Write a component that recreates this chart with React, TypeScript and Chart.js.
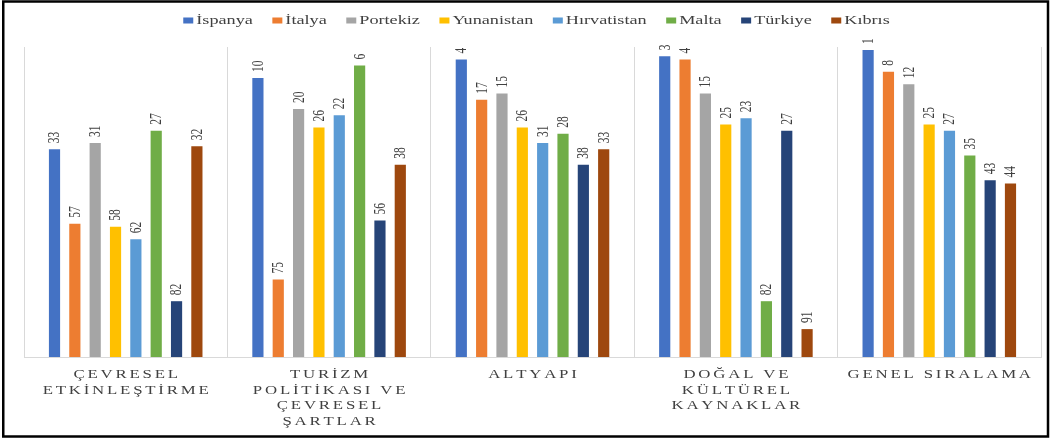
import React, { useEffect, useRef } from "react";
import { Chart, registerables } from "chart.js";

Chart.register(...registerables);

// ---- data ----
const categories: string[][] = [
  ["ÇEVRESEL", "ETKİNLEŞTİRME"],
  ["TURİZM", "POLİTİKASI VE", "ÇEVRESEL", "ŞARTLAR"],
  ["ALTYAPI"],
  ["DOĞAL VE", "KÜLTÜREL", "KAYNAKLAR"],
  ["GENEL SIRALAMA"],
];
const seriesNames = ["İspanya", "İtalya", "Portekiz", "Yunanistan", "Hırvatistan", "Malta", "Türkiye", "Kıbrıs"];
const seriesColors = ["#4472C4", "#ED7D31", "#A5A5A5", "#FFC000", "#5B9BD5", "#70AD47", "#264478", "#9E480E"];

const ispanya = [33, 10, 4, 3, 1];
const italya = [57, 75, 17, 4, 8];
const portekiz = [31, 20, 15, 15, 12];
const yunanistan = [58, 26, 26, 25, 25];
const hirvatistan = [62, 22, 31, 23, 27];
const malta = [27, 6, 28, 82, 35];
const turkiye = [82, 56, 38, 27, 43];
const kibris = [32, 38, 33, 91, 44];

const seriesRanks = [ispanya, italya, portekiz, yunanistan, hirvatistan, malta, turkiye, kibris];
const rankFloor = 100; // bars are drawn from the worst rank (100) up to each country's rank

const STRETCH = 1.4;
const TEXT = "#404040";
const SERIF = '"Liberation Serif", "Times New Roman", serif';

// draws text with manual letter spacing, centred on (cx, y), stretched horizontally
function drawSpaced(ctx: CanvasRenderingContext2D, text: string, cx: number, y: number, spacing: number) {
  const chars = Array.from(text);
  const widths = chars.map((c) => ctx.measureText(c).width);
  const total = widths.reduce((a, w) => a + w, 0) + spacing * (chars.length - 1);
  ctx.save();
  ctx.translate(cx, y);
  ctx.scale(STRETCH, 1);
  ctx.textAlign = "left";
  ctx.textBaseline = "alphabetic";
  let x = -total / 2;
  chars.forEach((c, i) => {
    ctx.fillText(c, x, 0);
    x += widths[i] + spacing;
  });
  ctx.restore();
}

const decorPlugin = {
  id: "decor",
  afterDatasetsDraw(chart: any) {
    const ctx = chart.ctx as CanvasRenderingContext2D;
    const yScale = chart.scales.y;
    chart.data.datasets.forEach((_ds: any, di: number) => {
      const meta = chart.getDatasetMeta(di);
      meta.data.forEach((bar: any, i: number) => {
        const rank = seriesRanks[di][i];
        const top = yScale.getPixelForValue(rank);
        ctx.save();
        ctx.translate(bar.x, top - 6);
        ctx.rotate(-Math.PI / 2);
        ctx.scale(1, STRETCH);
        ctx.font = `11.5px ${SERIF}`;
        ctx.fillStyle = TEXT;
        ctx.textAlign = "left";
        ctx.textBaseline = "middle";
        ctx.fillText(String(rank), 0, 0.5);
        ctx.restore();
      });
    });
  },
  afterDraw(chart: any) {
    const ctx = chart.ctx as CanvasRenderingContext2D;
    const xScale = chart.scales.x;

    // category labels
    ctx.save();
    ctx.font = `12px ${SERIF}`;
    ctx.fillStyle = TEXT;
    categories.forEach((lines, i) => {
      const cx = xScale.getPixelForValue(i);
      lines.forEach((line, li) => {
        drawSpaced(ctx, line, cx, 378 + li * 15.5, 2);
      });
    });
    ctx.restore();

    // legend
    ctx.save();
    ctx.font = `13px ${SERIF}`;
    const widths = seriesNames.map((n) => ctx.measureText(n).width * STRETCH);
    const markerW = 10;
    const markerGap = 3;
    const itemGap = 19.5;
    const total = widths.reduce((a, w) => a + markerW + markerGap + w, 0) + itemGap * (seriesNames.length - 1);
    let x = (chart.chartArea.left + chart.chartArea.right) / 2 + 4 - total / 2;
    seriesNames.forEach((name, i) => {
      ctx.fillStyle = seriesColors[i];
      ctx.fillRect(x, 17.5, markerW, 6);
      ctx.save();
      ctx.translate(x + markerW + markerGap, 24);
      ctx.scale(STRETCH, 1);
      ctx.fillStyle = TEXT;
      ctx.textAlign = "left";
      ctx.textBaseline = "alphabetic";
      ctx.fillText(name, 0, 0);
      ctx.restore();
      x += markerW + markerGap + widths[i] + itemGap;
    });
    ctx.restore();

    // outer frame
    ctx.save();
    ctx.strokeStyle = "#000";
    ctx.lineWidth = 2.5;
    ctx.strokeRect(3.25, 1.5, 1044.75, 435);
    ctx.restore();
  },
};

export default function App() {
  const canvasRef = useRef<HTMLCanvasElement | null>(null);

  useEffect(() => {
    if (!canvasRef.current) return;
    const chart = new Chart(canvasRef.current, {
      type: "bar",
      data: {
        labels: categories.map((c) => c.join(" ")),
        datasets: seriesNames.map((name, di) => ({
          label: name,
          data: seriesRanks[di].map((r) => [r, rankFloor]) as any,
          backgroundColor: seriesColors[di],
          borderWidth: 0,
          categoryPercentage: 0.8,
          barPercentage: 0.55,
        })),
      },
      options: {
        responsive: false,
        animation: false,
        devicePixelRatio: 1,
        layout: { padding: { left: 24, right: 11, top: 47, bottom: 82 } },
        plugins: {
          legend: { display: false },
          tooltip: { enabled: false },
        },
        scales: {
          x: {
            display: true,
            ticks: { display: false },
            grid: { offset: true, color: "#d9d9d9", lineWidth: 1, drawTicks: false },
            border: { display: true, color: "#d9d9d9", width: 1 },
          },
          y: {
            display: false,
            reverse: true,
            min: 0,
            max: 100,
          },
        },
      },
      plugins: [decorPlugin],
    });
    return () => chart.destroy();
  }, []);

  return (
    <div style={{ position: "fixed", left: 0, top: 0, width: 1052, height: 439, background: "#fff" }}>
      <canvas ref={canvasRef} width={1052} height={439} style={{ display: "block" }} />
    </div>
  );
}
